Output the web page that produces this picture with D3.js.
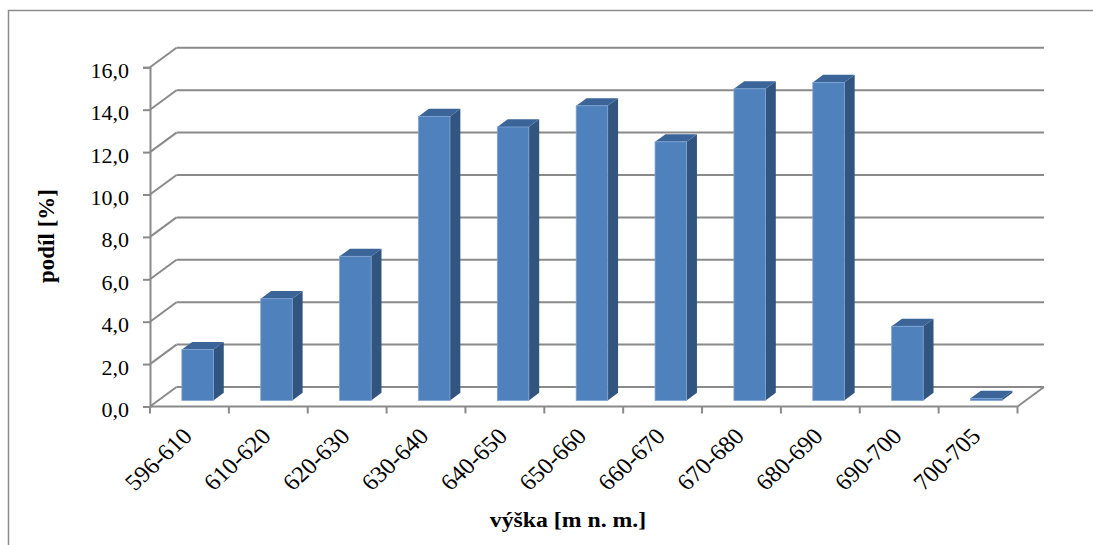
<!DOCTYPE html>
<html>
<head>
<meta charset="utf-8">
<script src="https://cdn.jsdelivr.net/npm/d3@7"></script>
<style>
  html, body { margin: 0; padding: 0; background: #fff; }
  svg { display: block; }
</style>
</head>
<body>
<svg id="chart" width="1093" height="545"></svg>
<script>
// Height bands (m a.s.l.) and their share of the area in percent
const categories = ["596-610", "610-620", "620-630", "630-640", "640-650", "650-660",
                    "660-670", "670-680", "680-690", "690-700", "700-705"];
const shares = [2.4, 4.8, 6.8, 13.4, 12.9, 13.9, 12.2, 14.7, 15.0, 3.5, 0.1];
const yTicks = [0, 2, 4, 6, 8, 10, 12, 14, 16];
const yTitle = "podíl [%]";
const xTitle = "výška [m n. m.]";

const svg = d3.select("#chart");
const W = 1093, H = 545;
const serif = "Liberation Serif";

// frame (only left and top edges fall inside the page)
svg.append("path")
  .attr("d", `M8.5,${H} L8.5,10.5 L${W},10.5`)
  .attr("fill", "none").attr("stroke", "#8c8c8c").attr("stroke-width", 1.5);

// front plane of the 3-D box
const x = d3.scaleBand().domain(categories).range([150, 1017.5]).padding(0);
const y = d3.scaleLinear().domain([0, 16]).range([406.5, 67.3]);
// depth offset of the back wall
const DX = 26.5, DY = -19.5;

const gridColor = "#8a8a8a";
const csLocale = d3.formatLocale({ decimal: ",", thousands: " ", grouping: [3], currency: ["", " Kč"] });
const fmt = csLocale.format(".1f");

const grid = svg.append("g").attr("fill", "none").attr("stroke", gridColor).attr("stroke-width", 2);
const x0 = x.range()[0], x1 = x.range()[1];

// back wall gridlines and left wall diagonals
yTicks.forEach(v => {
  const yy = y(v);
  grid.append("line")
    .attr("x1", x0 + DX).attr("y1", yy + DY)
    .attr("x2", x1 + DX).attr("y2", yy + DY);
  grid.append("line")
    .attr("x1", x0).attr("y1", yy)
    .attr("x2", x0 + DX).attr("y2", yy + DY);
});
// right edge of the floor
grid.append("line")
  .attr("x1", x1).attr("y1", y(0))
  .attr("x2", x1 + DX).attr("y2", y(0) + DY);

// bars as prisms standing in the middle of the depth
const fFront = 0.31, fBack = 0.70;
const bw = x.bandwidth() * 0.40;
const colFront = "#4f81bd", colTop = "#3b6598", colSide = "#31557f";

const bars = svg.append("g").selectAll("g").data(categories.map((c, i) => ({ c, v: shares[i] })))
  .join("g");

bars.each(function (d) {
  const g = d3.select(this);
  const cx = x(d.c) + x.bandwidth() / 2;
  const fx = cx - bw / 2 + fFront * DX;          // front face left
  const fyTop = y(d.v) + fFront * DY;
  const fyBot = y(0) + fFront * DY;
  const ddx = (fBack - fFront) * DX, ddy = (fBack - fFront) * DY;

  // side face
  g.append("path")
    .attr("d", `M${fx + bw},${fyTop} L${fx + bw + ddx},${fyTop + ddy} L${fx + bw + ddx},${fyBot + ddy} L${fx + bw},${fyBot} Z`)
    .attr("fill", colSide);
  // top face
  g.append("path")
    .attr("d", `M${fx},${fyTop} L${fx + ddx},${fyTop + ddy} L${fx + bw + ddx},${fyTop + ddy} L${fx + bw},${fyTop} Z`)
    .attr("fill", colTop);
  // front face
  g.append("rect")
    .attr("x", fx).attr("y", fyTop)
    .attr("width", bw).attr("height", Math.max(0, fyBot - fyTop))
    .attr("fill", colFront)
    .attr("stroke", "#7fa3d3").attr("stroke-width", 0.8);
});

// front value axis
const yAxis = svg.append("g")
  .attr("transform", `translate(${x0},0)`)
  .call(d3.axisLeft(y).tickValues(yTicks).tickFormat(fmt).tickSize(7).tickPadding(14))
  .attr("font-family", serif).attr("font-size", 22);
yAxis.select(".domain").attr("stroke", gridColor).attr("stroke-width", 2);
yAxis.selectAll(".tick line").attr("stroke", gridColor).attr("stroke-width", 2);
yAxis.selectAll(".tick text")
  .attr("fill", "#000")
  .attr("dy", "0.45em");

// front category axis: line, boundary ticks, rotated labels
const xAxisG = svg.append("g");
xAxisG.append("line")
  .attr("x1", x0).attr("x2", x1).attr("y1", y(0)).attr("y2", y(0))
  .attr("stroke", gridColor).attr("stroke-width", 2);
const bounds = categories.map(c => x(c)).concat([x1]);
xAxisG.selectAll("line.tick").data(bounds).join("line")
  .attr("class", "tick")
  .attr("x1", d => d).attr("x2", d => d)
  .attr("y1", y(0)).attr("y2", y(0) + 7)
  .attr("stroke", gridColor).attr("stroke-width", 2);

const xLabels = svg.append("g")
  .attr("transform", `translate(0,${y(0)})`)
  .call(d3.axisBottom(x).tickSize(0).tickSizeOuter(0).tickPadding(0))
  .attr("font-family", serif).attr("font-size", 23);
xLabels.select(".domain").remove();
xLabels.selectAll(".tick text")
  .attr("fill", "#000")
  .attr("text-anchor", "end")
  .attr("y", 0).attr("dy", 0)
  .attr("transform", "translate(4,31) scale(1.08,1) rotate(-45)");

// axis titles
svg.append("text")
  .attr("transform", "translate(54,236) rotate(-90)")
  .attr("text-anchor", "middle")
  .attr("font-family", serif)
  .attr("font-weight", "bold").attr("font-size", 23)
  .text(yTitle);

svg.append("text")
  .attr("transform", "translate(568,527) scale(1.08,1)")
  .attr("text-anchor", "middle")
  .attr("font-family", serif)
  .attr("font-weight", "bold").attr("font-size", 22)
  .text(xTitle);
</script>
</body>
</html>
